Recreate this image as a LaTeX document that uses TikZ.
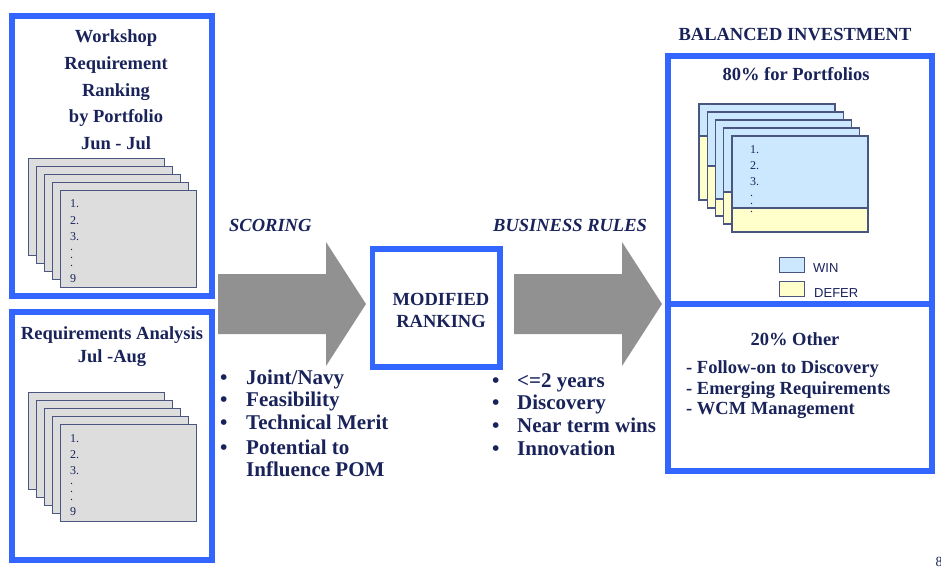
\documentclass[tikz,border=0pt]{standalone}
\usepackage{fontspec}
\setmainfont{Liberation Serif}
\newfontfamily\legendfont{Liberation Sans}
\usetikzlibrary{calc}
\definecolor{navy}{RGB}{25,35,90}
\definecolor{bblue}{RGB}{51,102,255}
\definecolor{sheetgray}{RGB}{221,221,221}
\definecolor{sheetedge}{RGB}{75,85,130}
\definecolor{arrowgray}{RGB}{145,145,145}
\definecolor{winblue}{RGB}{204,232,255}
\definecolor{deferyellow}{RGB}{255,255,204}
\begin{document}
\begin{tikzpicture}[x=1pt,y=-1pt,
  panel/.style={draw=bblue,line width=5.5pt,inner sep=0pt,outer sep=0pt},
  ttl/.style={font=\bfseries\fontsize{18.5}{22}\selectfont,text=navy,inner sep=0pt,anchor=base},
  ittl/.style={font=\bfseries\itshape\fontsize{18.5}{22}\selectfont,text=navy,inner sep=0pt,anchor=base west},
  bigitem/.style={font=\bfseries\fontsize{21}{24}\selectfont,text=navy,inner sep=0pt,anchor=base west},
  otheritem/.style={font=\bfseries\fontsize{18.5}{22}\selectfont,text=navy,inner sep=0pt,anchor=base west},
  sheet/.style={draw=sheetedge,line width=1.3pt,fill=sheetgray,minimum width=136pt,minimum height=97pt,anchor=north west,inner sep=0pt},
  shtxt/.style={font=\fontsize{12}{12}\selectfont,text=navy,inner sep=0pt,anchor=base west},
  dots/.style={font=\fontsize{12}{8}\selectfont,text=navy,inner sep=0pt,anchor=north west,align=left},
  legtxt/.style={font=\legendfont\fontsize{13}{14}\selectfont,text=navy,inner sep=0pt,anchor=base west},
  legbox/.style={draw=sheetedge,line width=1.2pt,minimum width=25pt,minimum height=15pt,anchor=north west,inner sep=0pt},
  blockarrow/.style={fill=arrowgray}
]
\useasboundingbox (0,0) rectangle (941,586);

% ---------- left panels ----------
\node[panel,minimum width=200pt,minimum height=280pt] (ws) at (112,156) {};
\node[panel,minimum width=200pt,minimum height=248pt] (ra) at (112,436) {};

\node[ttl] (ws1) at (116,42) {Workshop};
\node[ttl] (ws2) at (116,69) {Requirement};
\node[ttl] (ws3) at (116,96) {Ranking};
\node[ttl] (ws4) at (116,122) {by Portfolio};
\node[ttl] (ws5) at (116,149) {Jun - Jul};

\foreach \i in {0,...,4}{
  \node[sheet] (wsS\i) at ({28+8*\i},{158+8*\i}) {};
}
\node[shtxt] (wsn1) at (70,207.5) {1.};
\node[shtxt] (wsn2) at (70,224) {2.};
\node[shtxt] (wsn3) at (70,240) {3.};
\node[dots] (wsd) at (70,249) {.\\.\\.};
\node[shtxt] (wsn9) at (70,282) {9};

\node[ttl] (ra1) at (112,339) {Requirements Analysis};
\node[ttl] (ra2) at (112,362) {Jul -Aug};

\foreach \i in {0,...,4}{
  \node[sheet] (raS\i) at ({28+8*\i},{392+8*\i}) {};
}
\node[shtxt] (ran1) at (70,442) {1.};
\node[shtxt] (ran2) at (70,458) {2.};
\node[shtxt] (ran3) at (70,474) {3.};
\node[dots] (rad) at (70,483) {.\\.\\.};
\node[shtxt] (ran9) at (70,515) {9};

% ---------- block arrows ----------
\fill[blockarrow] (218,274) -- (326,274) -- (326,242) -- (366,304) -- (326,366) -- (326,334) -- (218,334) -- cycle;
\fill[blockarrow] (514,274) -- (622,274) -- (622,242) -- (662,304) -- (622,366) -- (622,334) -- (514,334) -- cycle;

\node[ittl] (scoring) at (229,231) {SCORING};
\node[ittl] (brules) at (493,231) {BUSINESS RULES};

% ---------- modified ranking ----------
\node[panel,minimum width=127.5pt,minimum height=118pt] (mr) at (436.25,308) {};
\node[ttl] (mr1) at (441,305) {MODIFIED};
\node[ttl] (mr2) at (441,327) {RANKING};

% ---------- bullet lists ----------
\foreach \y/\t [count=\k] in {384/{Joint/Navy},406/Feasibility,429/Technical Merit,454/Potential to}{
  \node[bigitem] (lb\k) at (220,\y) {\textbullet};
  \node[bigitem] (lt\k) at (246,\y) {\t};
}
\node[bigitem] (lt5) at (246,476) {Influence POM};

\foreach \y/\t [count=\k] in {387/{<=2 years},409/Discovery,432/Near term wins,455/Innovation}{
  \node[bigitem] (rb\k) at (492,\y) {\textbullet};
  \node[bigitem] (rt\k) at (517,\y) {\t};
}

% ---------- right panels ----------
\node[ttl] (bal) at (795,41) {BALANCED INVESTMENT};
\node[panel,minimum width=264pt,minimum height=248pt] (pf) at (800,180) {};
\node[panel,minimum width=264pt,minimum height=167pt] (ot) at (800,387.5) {};

\node[ttl] (pf1) at (796,81) {80\% for Portfolios};

\foreach \i/\s in {0/32,1/54,2/79,3/64,4/72}{
  \coordinate (pfS\i) at ({699+8.25*\i},{104+8*\i});
  \fill[winblue] (pfS\i) rectangle ++(136,\s);
  \fill[deferyellow] ($(pfS\i)+(0,\s)$) rectangle ++(136,{96-\s});
  \draw[sheetedge,line width=1.3pt] (pfS\i) rectangle ++(136,96);
  \draw[sheetedge,line width=1.3pt] ($(pfS\i)+(0,\s)$) -- ++(136,0);
}
\node[shtxt] (pfn1) at (750,153) {1.};
\node[shtxt] (pfn2) at (750,169) {2.};
\node[shtxt] (pfn3) at (750,185) {3.};
\node[dots] (pfd) at (750,195) {.\\.\\.};

\node[legbox,fill=winblue] (win) at (779,257) {};
\node[legtxt] (wint) at (813,272) {WIN};
\node[legbox,fill=deferyellow] (defer) at (779,281) {};
\node[legtxt] (defert) at (814,297) {DEFER};

\node[ttl] (ot1) at (795,345) {20\% Other};
\node[otheritem] (ot2) at (686,373) {- Follow-on to Discovery};
\node[otheritem] (ot3) at (686,394) {- Emerging Requirements};
\node[otheritem] (ot4) at (686,414) {- WCM Management};

\node[font=\fontsize{14}{14}\selectfont,text=navy,inner sep=0pt,anchor=base west] (pg) at (935.5,566) {8};
\end{tikzpicture}
\end{document}
